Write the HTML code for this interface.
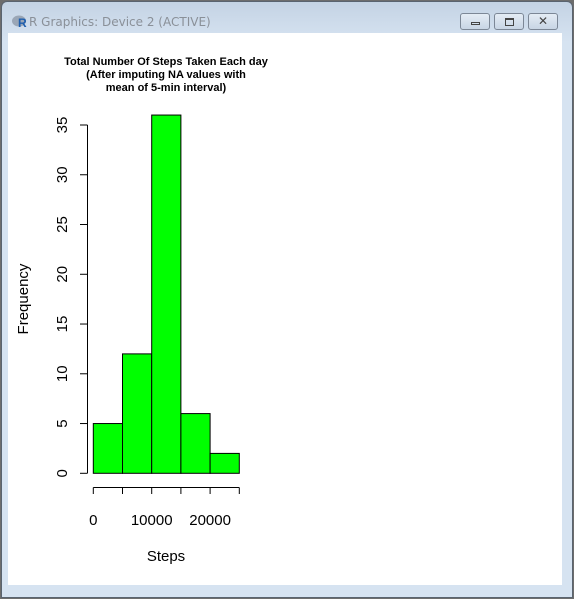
<!DOCTYPE html>
<html><head><meta charset="utf-8"><style>
body{margin:0;width:574px;height:599px;overflow:hidden;background:#6d6d6d;font-family:"Liberation Sans",sans-serif}
#win{position:absolute;left:1px;top:1px;width:572px;height:597px;background:linear-gradient(#c4d3e4,#d6e3f1 40px,#d6e3f1);border-radius:6px 6px 0 0;border:1px solid #5a6470;box-sizing:border-box}
#title{position:absolute;left:27px;top:13px;font-size:12px;color:#8a9098;font-family:"DejaVu Sans","Liberation Sans",sans-serif}
#ricon{position:absolute;left:10px;top:12px;width:16px;height:14px}
.btn{position:absolute;top:11px;height:17px;border:1px solid #7c8796;border-radius:3px;background:linear-gradient(#e4ecf5,#c8d5e4);box-sizing:border-box}
#content{position:absolute;left:8px;top:33px;width:554px;height:552px;background:#fff}
</style></head><body>
<div id="win">
<svg id="ricon" viewBox="0 0 16 14"><ellipse cx="7" cy="7" rx="7" ry="5.5" fill="#9aa6b6"/><text x="6" y="13" font-size="12" font-weight="bold" fill="#1f5fae" font-family="Liberation Sans">R</text></svg>
<div id="title">R Graphics: Device 2 (ACTIVE)</div>
<div class="btn" style="left:458px;width:30px"><div style="position:absolute;left:10px;top:8px;width:9px;height:3px;border:1px solid #444;box-sizing:border-box"></div></div>
<div class="btn" style="left:492px;width:30px"><div style="position:absolute;left:10px;top:4px;width:9px;height:8px;border:1px solid #444;border-top-width:2px;box-sizing:border-box"></div></div>
<div class="btn" style="left:526px;width:30px"><div style="position:absolute;left:0;width:28px;top:0;text-align:center;font-size:12px;color:#444;line-height:15px">✕</div></div>
</div>
<div id="content"></div>
<svg id="chart" width="574" height="599" style="position:absolute;left:0;top:0"></svg>
<script>
const breaks=[0,5000,10000,15000,20000,25000];
const counts=[5,12,36,6,2];
const yTicks=[0,5,10,15,20,25,30,35];
const xTicks=[0,5000,10000,15000,20000,25000];
const xLabels=["0","10000","20000"];
const xLabelVals=[0,10000,20000];
const ns="http://www.w3.org/2000/svg";
const svg=document.getElementById('chart');
const X=v=>93.3+(v-0)*(239.3-93.3)/25000;
const Y=v=>473.3-v*(473.3-125)/35;
function el(t,a,txt){const e=document.createElementNS(ns,t);for(const k in a)e.setAttribute(k,a[k]);if(txt!=null)e.textContent=txt;svg.appendChild(e);return e;}
for(let i=0;i<counts.length;i++){
 const r=el('rect',{x:X(breaks[i]),y:Y(counts[i]),width:X(breaks[i+1])-X(breaks[i]),height:Y(0)-Y(counts[i]),fill:'#00ff00',stroke:'#000','stroke-width':1});
 
 
}
const ya=el('line',{x1:87.5,x2:87.5,y1:Y(0),y2:Y(35),stroke:'#000'});


yTicks.forEach(v=>{
 const t=el('line',{x1:80,x2:87.5,y1:Y(v),y2:Y(v),stroke:'#000'});
 
 
 const l=el('text',{x:0,y:0,transform:`translate(67,${Y(v)}) rotate(-90)`,'text-anchor':'middle','font-size':15},String(v));
 
 
});
const xa=el('line',{x1:X(0),x2:X(25000),y1:487.5,y2:487.5,stroke:'#000'});


xTicks.forEach(v=>{
 const t=el('line',{x1:X(v),x2:X(v),y1:487.5,y2:494,stroke:'#000'});
 
 
});
xLabels.forEach((s,i)=>{
 const l=el('text',{x:X(xLabelVals[i]),y:525,'text-anchor':'middle','font-size':15},s);
 
 
});
const xt=el('text',{x:166,y:561,'text-anchor':'middle','font-size':15},'Steps');


const yt=el('text',{x:0,y:0,transform:'translate(28,299) rotate(-90)','text-anchor':'middle','font-size':15},'Frequency');


[['Total Number Of Steps Taken Each day',65],['(After imputing NA values with',78],['mean of 5-min interval)',91]].forEach(([s,y])=>{
 const t=el('text',{x:166,y:y,'text-anchor':'middle','font-size':11,'font-weight':'bold'},s);
 
 
});
</script>
</body></html>
